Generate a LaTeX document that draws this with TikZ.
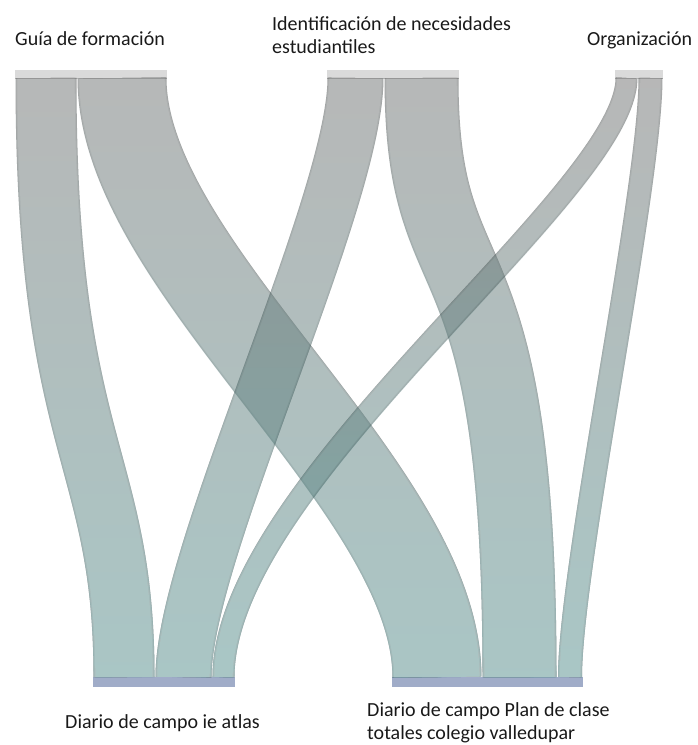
\documentclass[tikz,border=0pt]{standalone}
\usepackage{fontspec}
\setmainfont{Carlito}
\usetikzlibrary{fadings}

% colours of the bands (drawn at half opacity)
\definecolor{flowtop}{RGB}{112,112,112}
\definecolor{flowbot}{RGB}{83,143,141}
\definecolor{edgetop}{RGB}{75,75,75}
\definecolor{edgebot}{RGB}{45,105,105}
\definecolor{midtop}{RGB}{95,95,95}
\definecolor{midbot}{RGB}{65,125,124}
\definecolor{sourcebar}{RGB}{218,218,218}
\definecolor{sourceedge}{RGB}{190,190,190}
\definecolor{targetbar}{RGB}{160,172,200}

% vertical fade: transparent at the top, opaque at the bottom
\tikzfading[name=bandfade, top color=transparent!100, bottom color=transparent!0]

\tikzset{
  sourcenode/.style={fill=sourcebar, draw=none, inner sep=0pt, minimum height=8pt, anchor=north west},
  targetnode/.style={fill=targetbar, draw=none, inner sep=0pt, minimum height=10pt, anchor=north west},
  label/.style={font=\fontsize{20}{23}\selectfont, inner sep=0pt, anchor=base west, align=left, text=black!90},
}

% #1 start, #2 end, #3 width, #4 lower control length, #5 upper control length
\newcommand\bandlayer[7]{%
  \draw[line width=#3pt-#6pt, #7top] (#1) .. controls +(0,#4) and +(0,-#5) .. (#2);
  \draw[line width=#3pt-#6pt, #7bot, path fading=bandfade] (#1) .. controls +(0,#4) and +(0,-#5) .. (#2);}
\newcommand\sankeyband[5]{%
  \begin{scope}[transparency group, opacity=0.5]
    \bandlayer{#1}{#2}{#3}{#4}{#5}{1}{edge}
    \bandlayer{#1}{#2}{#3}{#4}{#5}{2.6}{mid}
    \bandlayer{#1}{#2}{#3}{#4}{#5}{4.6}{flow}
  \end{scope}}

\begin{document}
\begin{tikzpicture}[x=1pt, y=-1pt]
  \useasboundingbox (0,0) rectangle (697,745);

  % source and target bars
  \node[sourcenode, minimum width=152pt] (guia) at (15,70) {};
  \node[sourcenode, minimum width=132pt] (ident) at (327,70) {};
  \node[sourcenode, minimum width=48pt] (org) at (615,70) {};
  \node[targetnode, minimum width=142pt] (atlas) at (93,677) {};
  \node[targetnode, minimum width=191pt] (plan) at (392,677) {};
  \draw[sourceedge, line width=0.8pt] (guia.south west) -- (guia.south east);
  \draw[sourceedge, line width=0.8pt] (ident.south west) -- (ident.south east);
  \draw[sourceedge, line width=0.8pt] (org.south west) -- (org.south east);

  % band end points (centres of each band at the bars)
  \coordinate (gA) at (46,78);    \coordinate (gAe) at (124,677);
  \coordinate (gB) at (122,78);   \coordinate (gBe) at (437,677);
  \coordinate (iA) at (355.5,78); \coordinate (iAe) at (183.5,677);
  \coordinate (iB) at (421.5,78); \coordinate (iBe) at (519.5,677);
  \coordinate (oA) at (626.5,78); \coordinate (oAe) at (223.5,677);
  \coordinate (oB) at (650.5,78); \coordinate (oBe) at (570,677);

  % bands
  \sankeyband{gA}{gAe}{62}{375}{224}
  \sankeyband{gB}{gBe}{90}{190}{190}
  \sankeyband{iA}{iAe}{57}{125}{125}
  \sankeyband{iB}{iBe}{75}{237}{470}
  \sankeyband{oA}{oAe}{23}{115}{195}
  \sankeyband{oB}{oBe}{25}{110}{110}

  % labels
  \node[label] (lguia) at (15,45) {Guía de formación};
  \node[label] (lident) at (272,53) {Identificación de necesidades\\estudiantiles};
  \node[label] (lorg) at (587,45) {Organización};
  \node[label] (latlas) at (65,728) {Diario de campo ie atlas};
  \node[label] (lplan) at (367,739) {Diario de campo Plan de clase\\totales colegio valledupar};
\end{tikzpicture}
\end{document}
